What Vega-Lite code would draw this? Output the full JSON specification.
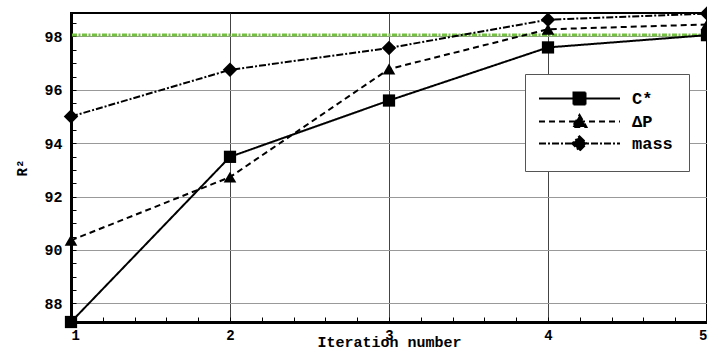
{
  "$schema": "https://vega.github.io/schema/vega-lite/v6.json",
  "width": 636,
  "height": 309,
  "autosize": {"type": "none"},
  "padding": {"left": 71, "top": 13, "right": 0, "bottom": 30},
  "background": "white",
  "config": {
    "font": "Liberation Mono",
    "view": {"stroke": "black", "strokeWidth": 2},
    "axis": {
      "domainColor": "black",
      "domainWidth": 3,
      "tickColor": "black",
      "tickWidth": 1,
      "labelOverlap": false,
      "labelFont": "Liberation Mono",
      "labelFontWeight": "bold",
      "labelFontSize": 15,
      "labelColor": "black",
      "titleFont": "Liberation Mono",
      "titleFontWeight": "bold",
      "titleFontSize": 15,
      "titleColor": "black"
    },
    "legend": {
      "labelFont": "Liberation Mono",
      "labelFontWeight": "bold",
      "labelFontSize": 17,
      "labelColor": "black"
    }
  },
  "datasets": {
    "series": [
      {"iter": 1, "series": "C*", "r2": 87.3},
      {"iter": 2, "series": "C*", "r2": 93.49},
      {"iter": 3, "series": "C*", "r2": 95.6},
      {"iter": 4, "series": "C*", "r2": 97.59},
      {"iter": 5, "series": "C*", "r2": 98.05},
      {"iter": 1, "series": "ΔP", "r2": 90.36},
      {"iter": 2, "series": "ΔP", "r2": 92.73},
      {"iter": 3, "series": "ΔP", "r2": 96.78},
      {"iter": 4, "series": "ΔP", "r2": 98.27},
      {"iter": 5, "series": "ΔP", "r2": 98.45},
      {"iter": 1, "series": "mass", "r2": 95.0},
      {"iter": 2, "series": "mass", "r2": 96.75},
      {"iter": 3, "series": "mass", "r2": 97.57},
      {"iter": 4, "series": "mass", "r2": 98.63},
      {"iter": 5, "series": "mass", "r2": 98.86}
    ],
    "target": [{"r2": 98.06}]
  },
  "layer": [
    {
      "data": {"name": "target"},
      "mark": {"type": "rule", "color": "#74c043", "strokeWidth": 3, "strokeDash": [5, 1.5, 2, 1.5]},
      "encoding": {
        "y": {
          "field": "r2",
          "type": "quantitative",
          "scale": {"domain": [87.3, 98.88], "nice": false, "zero": false},
          "axis": {
            "title": "R²",
            "titleFontSize": 14,
            "titlePadding": 14,
            "tickCount": 200,
            "values": [87.5, 88, 88.5, 89, 89.5, 90, 90.5, 91, 91.5, 92, 92.5, 93, 93.5, 94, 94.5, 95, 95.5, 96, 96.5, 97, 97.5, 98, 98.5],
            "labelExpr": "datum.value % 2 === 0 ? '' + datum.value : ''",
            "tickSize": -5,
            "labelPadding": 14,
            "grid": true,
            "gridColor": "#999999",
            "gridWidth": 1,
            "gridOpacity": {"condition": {"test": "datum.value % 2 === 0", "value": 1}, "value": 0}
          }
        }
      }
    },
    {
      "data": {"name": "series"},
      "mark": {"type": "line", "color": "black", "strokeWidth": 2},
      "encoding": {
        "x": {
          "field": "iter",
          "type": "quantitative",
          "scale": {"domain": [1, 5], "nice": false, "zero": false},
          "axis": {
            "title": "Iteration number",
            "titlePadding": -8,
            "tickCount": 200,
            "values": [1, 1.2, 1.4, 1.6, 1.8, 2, 2.2, 2.4, 2.6, 2.8, 3, 3.2, 3.4, 3.6, 3.8, 4, 4.2, 4.4, 4.6, 4.8, 5],
            "labelExpr": "datum.value % 1 === 0 ? '' + datum.value : ''",
            "labelFontSize": 14,
            "tickSize": -5,
            "labelPadding": 11,
            "grid": true,
            "gridColor": "#444444",
            "gridWidth": 1,
            "gridOpacity": {"condition": {"test": "datum.value % 1 === 0", "value": 1}, "value": 0}
          }
        },
        "y": {"field": "r2", "type": "quantitative"},
        "strokeDash": {
          "field": "series",
          "type": "nominal",
          "scale": {"domain": ["C*", "ΔP", "mass"], "range": [[1, 0], [6, 4], [7, 2, 2, 2]]},
          "legend": {
            "title": null,
            "orient": "none",
            "legendX": 454,
            "legendY": 61,
            "padding": 16,
            "strokeColor": "#555555",
            "fillColor": "white",
            "symbolSize": 144,
            "symbolStrokeWidth": 2,
            "symbolStrokeColor": "black",
            "symbolFillColor": "black",
            "symbolOffset": 30,
            "labelOffset": 44,
            "rowPadding": 1,
            "symbolType": {"expr": "datum.value === 'C*' ? 'M-6.75,0H6.75M-1,-1H1V1H-1Z' : datum.value === 'mass' ? 'M-6.75,0H6.75M0,-1.2L1.2,0L0,1.2L-1.2,0Z' : 'M-6.75,0H6.75M0,-1.1L1.15,0.9H-1.15Z'"}
          }
        }
      }
    },
    {
      "data": {"name": "series"},
      "transform": [{"filter": "datum.series === 'C*'"}],
      "mark": {"type": "point", "shape": "square", "size": 150, "filled": true, "color": "black", "opacity": 1},
      "encoding": {
        "x": {"field": "iter", "type": "quantitative"},
        "y": {"field": "r2", "type": "quantitative"}
      }
    },
    {
      "data": {"name": "series"},
      "transform": [{"filter": "datum.series === 'ΔP'"}],
      "mark": {"type": "point", "shape": "triangle-up", "size": 160, "filled": true, "color": "black", "opacity": 1},
      "encoding": {
        "x": {"field": "iter", "type": "quantitative"},
        "y": {"field": "r2", "type": "quantitative"}
      }
    },
    {
      "data": {"name": "series"},
      "transform": [{"filter": "datum.series === 'mass'"}],
      "mark": {"type": "point", "shape": "diamond", "size": 210, "filled": true, "color": "black", "opacity": 1},
      "encoding": {
        "x": {"field": "iter", "type": "quantitative"},
        "y": {"field": "r2", "type": "quantitative"}
      }
    }
  ]
}
